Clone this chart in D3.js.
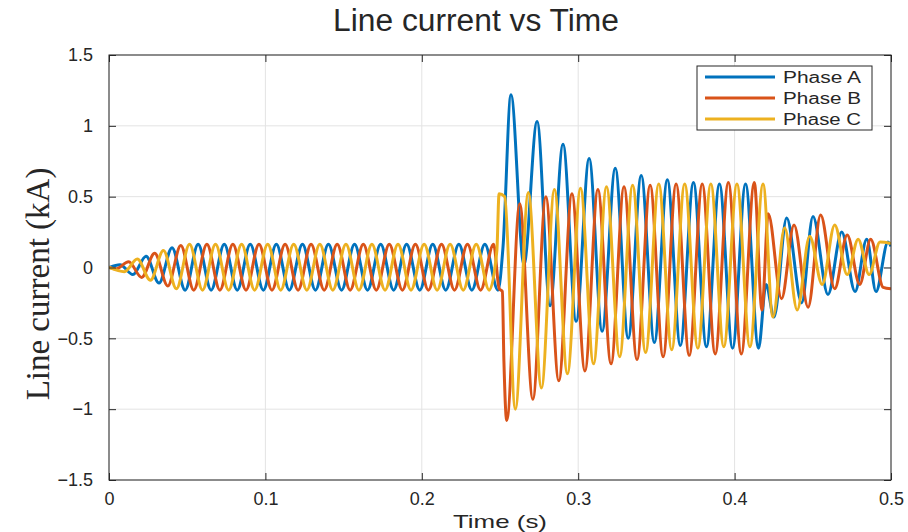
<!DOCTYPE html>
<html>
<head>
<meta charset="utf-8">
<script src="https://cdn.jsdelivr.net/npm/d3@7"></script>
<style>
  body { margin: 0; background: #fff; }
  svg text { fill: #262626; }
</style>
</head>
<body>
<div id="chart"></div>
<script>
// tick labels
var xTicks = [0, 0.1, 0.2, 0.3, 0.4, 0.5];
var yTicks = [-1.5, -1, -0.5, 0, 0.5, 1, 1.5];
var phaseNames = ["Phase A", "Phase B", "Phase C"];

// Phase A: times of the peaks / troughs (s) and current (kA)
var timeA = [0, 0.0070, 0.0153, 0.0237, 0.0320, 0.0403, 0.0487, 0.0570, 0.0653, 0.0737, 0.0820,
  0.0903, 0.0987, 0.1070, 0.1153, 0.1237, 0.1320, 0.1403, 0.1487, 0.1570, 0.1653,
  0.1737, 0.1820, 0.1903, 0.1987, 0.2070, 0.2153, 0.2237, 0.2320, 0.2403, 0.2487,
  0.2519, 0.2570, 0.2653, 0.2737, 0.2820, 0.2903, 0.2987, 0.3070, 0.3153, 0.3237,
  0.3320, 0.3403, 0.3487, 0.3570, 0.3653, 0.3737, 0.3820, 0.3903, 0.3987, 0.4070,
  0.4153, 0.4201, 0.4252, 0.4333, 0.4429, 0.4501, 0.4597, 0.4685, 0.4770, 0.4845,
  0.4904, 0.4981, 0.5000];
var currentA = [0, 0.02, -0.05, 0.08, -0.11, 0.14, -0.16, 0.165, -0.16, 0.165, -0.16,
  0.165, -0.16, 0.165, -0.16, 0.165, -0.16, 0.165, -0.16, 0.165, -0.16,
  0.165, -0.16, 0.165, -0.16, 0.165, -0.16, 0.165, -0.16, 0.165, -0.16,
  0.14, 1.22, 0.02, 1.03, -0.27, 0.87, -0.38, 0.77, -0.45, 0.70,
  -0.50, 0.65, -0.53, 0.62, -0.55, 0.60, -0.56, 0.59, -0.57, 0.59,
  -0.57, -0.12, -0.35, 0.35, -0.25, 0.36, -0.19, 0.25, -0.17, 0.20,
  -0.17, 0.18, 0.15];

// Phase B
var timeB = [0, 0.0043, 0.0126, 0.0209, 0.0292, 0.0376, 0.0459, 0.0542, 0.0626, 0.0709, 0.0792,
  0.0876, 0.0959, 0.1042, 0.1126, 0.1209, 0.1292, 0.1376, 0.1459, 0.1542, 0.1626,
  0.1709, 0.1792, 0.1876, 0.1959, 0.2042, 0.2126, 0.2209, 0.2292, 0.2376, 0.2459,
  0.2495, 0.2515, 0.2525, 0.2543, 0.2626, 0.2710, 0.2793, 0.2876, 0.2960, 0.3043,
  0.3126, 0.3210, 0.3293, 0.3376, 0.3460, 0.3543, 0.3626, 0.3710, 0.3793, 0.3876,
  0.3960, 0.4043, 0.4126, 0.4175, 0.4215, 0.4300, 0.4380, 0.4470, 0.4550, 0.4640,
  0.4720, 0.4800, 0.4870, 0.4950, 0.5000];
var currentB = [0, -0.01, 0.04, -0.07, 0.10, -0.13, 0.155, -0.16, 0.165, -0.16, 0.165,
  -0.16, 0.165, -0.16, 0.165, -0.16, 0.165, -0.16, 0.165, -0.16, 0.165,
  -0.16, 0.165, -0.16, 0.165, -0.16, 0.165, -0.16, 0.165, -0.16, 0.165,
  -0.15, -0.17, -0.66, -1.08, 0.45, -0.93, 0.50, -0.80, 0.52, -0.73,
  0.55, -0.68, 0.57, -0.65, 0.58, -0.63, 0.59, -0.62, 0.59, -0.61,
  0.60, -0.61, 0.60, -0.30, 0.38, -0.22, 0.30, -0.28, 0.37, -0.15,
  0.23, -0.12, 0.20, -0.14, -0.15];

// Phase C
var timeC = [0, 0.0098, 0.0181, 0.0265, 0.0348, 0.0431, 0.0515, 0.0598, 0.0681, 0.0765, 0.0848,
  0.0931, 0.1015, 0.1098, 0.1181, 0.1265, 0.1348, 0.1431, 0.1515, 0.1598, 0.1681,
  0.1765, 0.1848, 0.1931, 0.2015, 0.2098, 0.2181, 0.2265, 0.2348, 0.2431,
  0.2480, 0.2494, 0.2530, 0.2598, 0.2681, 0.2765, 0.2848, 0.2931, 0.3015, 0.3098,
  0.3181, 0.3265, 0.3348, 0.3431, 0.3515, 0.3598, 0.3681, 0.3765, 0.3848, 0.3931,
  0.4015, 0.4098, 0.4182, 0.4245, 0.4320, 0.4400, 0.4480, 0.4560, 0.4640, 0.4720,
  0.4790, 0.4860, 0.4930, 0.5000];
var currentC = [0, -0.03, 0.06, -0.09, 0.12, -0.15, 0.165, -0.16, 0.165, -0.16, 0.165,
  -0.16, 0.165, -0.16, 0.165, -0.16, 0.165, -0.16, 0.165, -0.16, 0.165,
  -0.16, 0.165, -0.16, 0.165, -0.16, 0.165, -0.16, 0.165, -0.16,
  0.12, 0.52, 0.50, -1.00, 0.53, -0.85, 0.55, -0.75, 0.56, -0.68,
  0.57, -0.63, 0.58, -0.60, 0.59, -0.58, 0.59, -0.57, 0.59, -0.56,
  0.59, -0.56, 0.59, -0.35, 0.28, -0.30, 0.22, -0.12, 0.30, -0.05,
  0.20, -0.05, 0.18, 0.17];

var colors = ["#0072BD", "#D95319", "#EDB120"];

var W = 908, H = 532;
var margin = { top: 55, right: 17, bottom: 52, left: 109 };
var w = W - margin.left - margin.right,
    h = H - margin.top - margin.bottom;

var svg = d3.select("#chart").append("svg")
    .attr("width", W)
    .attr("height", H)
    .style("font-family", "'Liberation Sans', Arial, sans-serif");

var x = d3.scaleLinear().domain([0, 0.5]).range([0, w]);
var y = d3.scaleLinear().domain([-1.5, 1.5]).range([h, 0]);

var g = svg.append("g")
    .attr("transform", "translate(" + margin.left + "," + margin.top + ")");

// grid
g.append("g")
    .selectAll("line.gx")
    .data(xTicks)
    .enter().append("line")
    .attr("x1", function(d) { return x(d); })
    .attr("x2", function(d) { return x(d); })
    .attr("y1", 0).attr("y2", h)
    .style("stroke", "#e3e3e3");
g.append("g")
    .selectAll("line.gy")
    .data(yTicks)
    .enter().append("line")
    .attr("y1", function(d) { return y(d); })
    .attr("y2", function(d) { return y(d); })
    .attr("x1", 0).attr("x2", w)
    .style("stroke", "#e3e3e3");

// lines
g.append("clipPath").attr("id", "clip")
  .append("rect").attr("width", w).attr("height", h);

var series = [
  { t: timeA, v: currentA },
  { t: timeB, v: currentB },
  { t: timeC, v: currentC }
];

var line = d3.line()
    .x(function(d) { return x(d[0]); })
    .y(function(d) { return y(d[1]); })
    .curve(d3.curveMonotoneX);

series.forEach(function(s, i) {
  g.append("path")
      .datum(d3.zip(s.t, s.v))
      .attr("clip-path", "url(#clip)")
      .attr("d", line)
      .style("fill", "none")
      .style("stroke", colors[i])
      .style("stroke-width", 3)
      .style("stroke-linejoin", "round");
});

// axes (ticks inside, on all sides)
function styleAxis(sel) {
  sel.select(".domain").remove();
  sel.selectAll(".tick line").style("stroke", "#262626");
  sel.selectAll(".tick text")
      .style("font-size", "18px")
      .style("fill", "#262626");
}

g.append("g")
    .attr("transform", "translate(0," + h + ")")
    .call(d3.axisBottom(x).tickValues(xTicks).tickSizeInner(-7).tickSizeOuter(0)
      .tickPadding(12).tickFormat(d3.format("")))
    .call(styleAxis);
g.append("g")
    .call(d3.axisTop(x).tickValues(xTicks).tickSizeInner(-7).tickSizeOuter(0).tickFormat(""))
    .call(styleAxis);
g.append("g")
    .call(d3.axisLeft(y).tickValues(yTicks).tickSizeInner(-7).tickSizeOuter(0)
      .tickPadding(16).tickFormat(d3.format("")))
    .call(styleAxis);
g.append("g")
    .attr("transform", "translate(" + w + ",0)")
    .call(d3.axisRight(y).tickValues(yTicks).tickSizeInner(-7).tickSizeOuter(0).tickFormat(""))
    .call(styleAxis);

g.append("rect")
    .attr("width", w).attr("height", h)
    .style("fill", "none")
    .style("stroke", "#262626")
    .style("stroke-width", 1);

// titles
svg.append("text")
    .attr("x", 476).attr("y", 31)
    .attr("text-anchor", "middle")
    .attr("textLength", 286)
    .attr("lengthAdjust", "spacingAndGlyphs")
    .style("font-size", "31px")
    .text("Line current vs Time");

svg.append("text")
    .attr("x", 500).attr("y", 528)
    .attr("text-anchor", "middle")
    .attr("textLength", 94)
    .attr("lengthAdjust", "spacingAndGlyphs")
    .style("font-size", "19px")
    .text("Time (s)");

svg.append("text")
    .attr("transform", "translate(49,284) rotate(-90)")
    .attr("text-anchor", "middle")
    .style("font-family", "'Liberation Serif', 'Times New Roman', serif")
    .style("font-size", "33px")
    .text("Line current (kA)");

// legend
var legend = svg.append("g").attr("transform", "translate(697,66)");
legend.append("rect")
    .attr("width", 175).attr("height", 64)
    .style("fill", "#fff")
    .style("stroke", "#262626")
    .style("stroke-width", 1);
phaseNames.forEach(function(name, i) {
  var ly = 11 + i * 21;
  legend.append("line")
      .attr("x1", 8).attr("x2", 78)
      .attr("y1", ly).attr("y2", ly)
      .style("stroke", colors[i])
      .style("stroke-width", 3);
  legend.append("text")
      .attr("x", 86).attr("y", ly + 6)
      .attr("textLength", 78)
      .attr("lengthAdjust", "spacingAndGlyphs")
      .style("font-size", "16px")
      .text(name);
});
</script>
</body>
</html>
